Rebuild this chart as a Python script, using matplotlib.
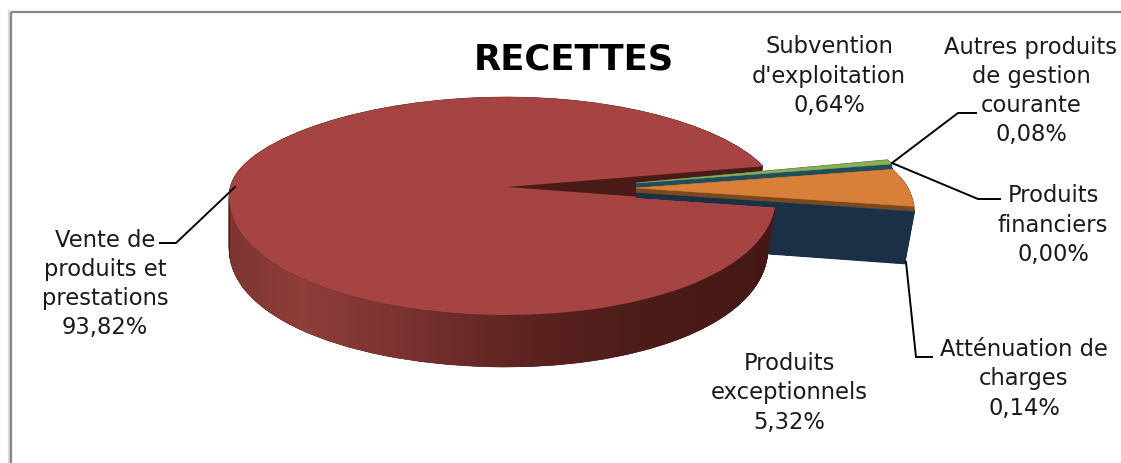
import numpy as np
import matplotlib
matplotlib.use("Agg")
import matplotlib.pyplot as plt
from matplotlib.patches import Wedge, Polygon, Rectangle
from matplotlib.transforms import Transform
from matplotlib.colors import LinearSegmentedColormap

labels = ["Vente de\nproduits et\nprestations", "Atténuation de\ncharges",
          "Produits\nexceptionnels", "Produits\nfinanciers",
          "Autres produits\nde gestion\ncourante", "Subvention\nd'exploitation"]
values = [93.82, 0.14, 5.32, 0.00, 0.08, 0.64]
colors = ["#A54442", "#1B2F47", "#D8803A", "#1F4E5F", "#1F4E5F", "#8CAF52"]
wall_colors = ["#4A1A17", "#1B2F47", "#7A4A1C", "#1F4E5F", "#1F4E5F", "#1F4E5F"]
start_angle = 13.3
label_pos = [(105, 284), (1024, 379), (789, 393), (1053, 225), (1031, 91), (829, 76)]
FS = 16.3
LSP = 1.34


class Persp(Transform):
    input_dims = output_dims = 2
    is_separable = False
    has_inverse = False

    def __init__(self, cx, cy, rl, rr, up, dn, p, t=0.0, depth=52, shrink=0.03):
        super().__init__()
        self.a = (cx, cy, rl, rr, up, dn, p, t, depth, shrink)

    def transform_non_affine(self, v):
        cx, cy, rl, rr, up, dn, p, t, depth, shrink = self.a
        v = np.asarray(v, float)
        u, w = v[:, 0], v[:, 1]
        rx = np.where(u < 0, rl, rr) * (1 - p * w)
        x = cx + rx * u * (1 - shrink * t * (u > 0))
        y = cy - np.where(w > 0, up, dn) * w + depth * t
        return np.column_stack([x, y])


fig = plt.figure(figsize=(11.21, 4.63), dpi=100, facecolor="white")
ax = fig.add_axes([0, 0, 1, 1])
wedges, _ = ax.pie(values, colors=colors, startangle=start_angle, radius=1, center=(0, 0))
ax.set_aspect("auto")
ax.set_xlim(0, 1121)
ax.set_ylim(463, 0)
ax.axis("off")

RED = dict(cx=507, cy=187, rl=277, rr=268, up=90, dn=128, p=0.08)
SMALL = dict(cx=636, cy=192, rl=272, rr=272, up=100, dn=125, p=0.22)


def layer(w, geom, color, t=0.0, lift=0.0, z=2, lw=0.4, **kw):
    g = dict(geom)
    g["cy"] = g["cy"] - lift
    patch = Wedge((0, 0), 1, w.theta1, w.theta2, facecolor=color, edgecolor=color, lw=lw, zorder=z)
    patch.set_transform(Persp(t=t, **g, **kw) + ax.transData)
    ax.add_patch(patch)
    return patch


# blue outer wall, behind the large slice
blue = wedges[1]
for t in np.linspace(1, 0, 110):
    layer(blue, SMALL, wall_colors[1], t=t, z=1, lw=1.2, depth=52, shrink=0.035)

# large slice: interior walls, outer gradient wall, top face
red = wedges[0]
for t in np.linspace(1, 0, 70):
    layer(red, RED, wall_colors[0], t=t, z=2)

th = np.radians(np.linspace(180, red.theta2, 200))
unit = np.column_stack([np.cos(th), np.sin(th)])
top = Persp(**RED, t=0).transform_non_affine(unit)
bot = Persp(**RED, t=1).transform_non_affine(unit)
clip = Polygon(np.vstack([top, bot[::-1]]), closed=True, transform=ax.transData, fc="none", ec="none")
ax.add_patch(clip)
cmap = LinearSegmentedColormap.from_list("wall", [
    (0.00, "#7E3531"), (0.13, "#8F3E3A"), (0.32, "#7A3230"),
    (0.55, "#5C2320"), (0.75, "#4C1C19"), (1.00, "#451816")])
grad = ax.imshow(np.linspace(0, 1, 256)[None, :], extent=(230, 775, 375, 180), cmap=cmap,
                 aspect="auto", zorder=3)
grad.set_clip_path(clip)
ax.set_xlim(0, 1121)
ax.set_ylim(463, 0)

red.set_transform(Persp(**RED) + ax.transData)
red.set_zorder(4)
red.set_linewidth(0)

# small slices in front: short walls and raised top faces
for t in np.linspace(5, 0, 12):
    layer(blue, SMALL, wall_colors[1], t=t / 52, z=5, lw=1.0, depth=52, shrink=0.035)
for idx, lift, h in [(5, 9, 6), (4, 5, 3), (3, 5, 3), (2, 4, 4)]:
    w = wedges[idx]
    for d in np.linspace(h, 0, 12):
        layer(w, SMALL, wall_colors[idx], lift=lift - d, z=6, lw=0.8)
    layer(w, SMALL, colors[idx], lift=lift, z=7)
    w.set_visible(False)
blue.set_transform(Persp(**SMALL) + ax.transData)
blue.set_facecolor("#27496D")
blue.set_zorder(6)
blue.set_linewidth(0.5)
blue.set_edgecolor("#27496D")

# leader lines
leaders = [
    [(160, 243), (176, 243), (235, 187)],
    [(892, 163), (958, 113), (976, 113)],
    [(892, 163), (978, 199), (1000, 199)],
    [(906, 262), (916, 357), (932, 357)],
]
for pts in leaders:
    xs, ys = zip(*pts)
    ax.plot(xs, ys, color="black", lw=1.4, zorder=8, solid_joinstyle="miter")

# data labels
for lab, val, (x, y) in zip(labels, values, label_pos):
    txt = lab + "\n" + f"{val:.2f}".replace(".", ",") + "%"
    ax.text(x, y, txt, ha="center", va="center", fontsize=FS, family="DejaVu Sans",
            linespacing=LSP, color="#1a1a1a", zorder=9)

ax.text(574, 60, "RECETTES", ha="center", va="center", fontsize=25.5, family="DejaVu Sans",
        fontweight="bold", color="black", zorder=9)

# chart frame
ax.add_patch(Rectangle((11, 12), 1115, 470, fc="none", ec="#868686", lw=1.6, zorder=10, clip_on=True))
ax.plot([9, 9], [11, 463], color="#D9D9D9", lw=1.6, zorder=9)

fig.savefig("out.png", dpi=100, facecolor="white")
